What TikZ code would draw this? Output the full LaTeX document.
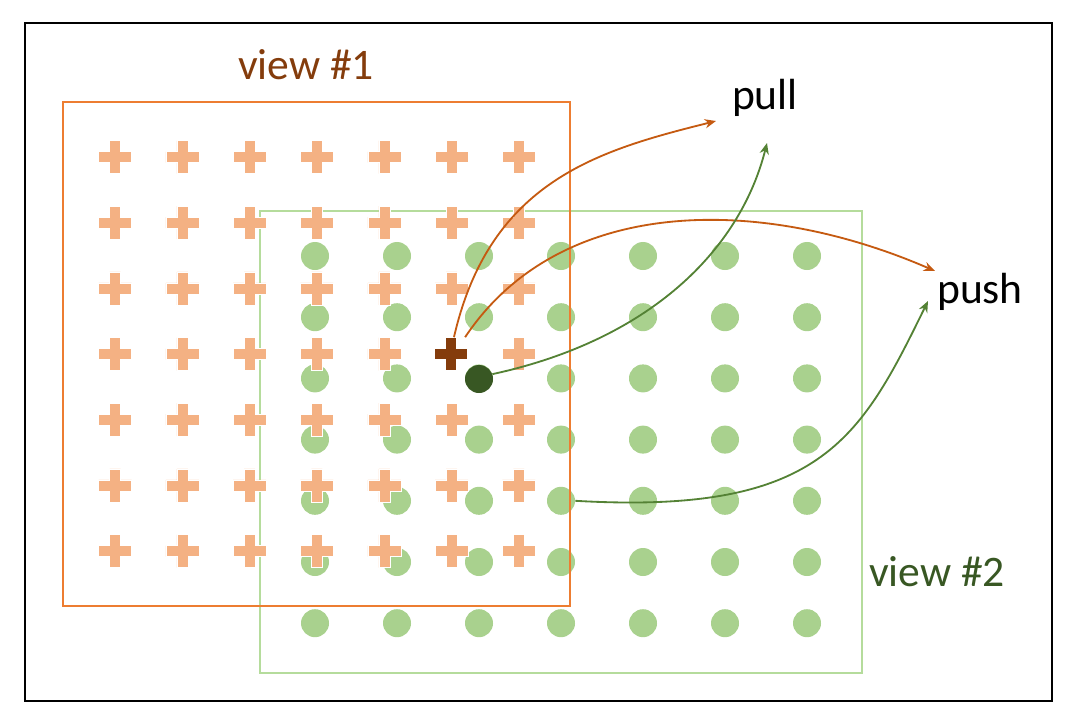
\documentclass[tikz,border=0pt]{standalone}
\usepackage{fontspec}
\setmainfont{Carlito}
\usetikzlibrary{arrows.meta}

\definecolor{frameorange}{RGB}{237,125,49}
\definecolor{lightorange}{RGB}{244,177,131}
\definecolor{darkbrown}{RGB}{132,60,12}
\definecolor{arroworange}{RGB}{197,90,17}
\definecolor{lightgreen}{RGB}{169,209,142}
\definecolor{framegreen}{RGB}{181,220,156}
\definecolor{darkgreen}{RGB}{56,87,35}
\definecolor{arrowgreen}{RGB}{84,130,53}

\tikzset{
  plusmark/.pic={
    \path[pic actions] (-5.5,-16.5) -- ++(11,0) -- ++(0,11) -- ++(11,0) -- ++(0,11)
      -- ++(-11,0) -- ++(0,11) -- ++(-11,0) -- ++(0,-11) -- ++(-11,0) -- ++(0,-11)
      -- ++(11,0) -- cycle;
  },
  gdot/.style={circle, fill=lightgreen, inner sep=0pt, minimum size=0.7cm},
  label/.style={anchor=base, font=\fontsize{31}{37}\selectfont},
  oarrow/.style={arroworange, line width=1.3pt, -{Stealth[length=2.8mm, width=2.3mm]}},
  garrow/.style={arrowgreen, line width=1.3pt, -{Stealth[length=2.8mm, width=2.3mm]}}
}

\begin{document}
\begin{tikzpicture}[x=0.025cm, y=-0.025cm]
    \useasboundingbox (0,0) rectangle (1080,723);

    % Outer frame
    \draw[line width=1.5pt] (25,23) rectangle (1052,701);

    % View #2: green grid
    \draw[framegreen, line width=1.3pt] (260,211) rectangle (862,673);
    \foreach \i in {1,...,7}
      \foreach \j in {1,...,7}
        \node[gdot] (g-\i-\j) at ({315+82*(\i-1)},{256+61.2*(\j-1)}) {};

    % View #1: orange grid
    \foreach \i in {0,...,6}
      \foreach \j in {0,...,6}
        \pic[fill=lightorange, draw=white, line width=0.3pt] at ({115+67.33*\i},{157+65.67*\j}) {plusmark};
    \draw[frameorange, line width=1.3pt] (63,102) rectangle (570,606);

    % Anchors
    \pic[fill=darkbrown, draw=white, line width=0.3pt] at (451,354) {plusmark};
    \node[inner sep=0pt, minimum size=0.825cm] (dcross) at (451,354) {};
    \node[gdot, fill=darkgreen] (ddot) at (479,379) {};

    % Labels
    \node[label, text=darkbrown] (view1) at (306,79) {view \#1};
    \node[label, text=darkgreen] (view2) at (937,586) {view \#2};
    \node[label] (pull) at (765,109) {pull};
    \node[label] (push) at (980,303) {push};

    % Arrow targets
    \coordinate (pullO) at (716,121);
    \coordinate (pullG) at (767,143);
    \coordinate (pushO) at (935,271);
    \coordinate (pushG) at (928,301);

    % Pull and push
    \draw[oarrow] (dcross.80) .. controls (490,180) and (600,150) .. (pullO);
    \draw[oarrow] (dcross.50) .. controls (560,195) and (760,195) .. (pushO);
    \draw[garrow] (ddot.20) .. controls (650,340) and (740,250) .. (pullG);
    \draw[garrow] (g-4-5.east) .. controls (820,515) and (860,440) .. (pushG);

\end{tikzpicture}
\end{document}
